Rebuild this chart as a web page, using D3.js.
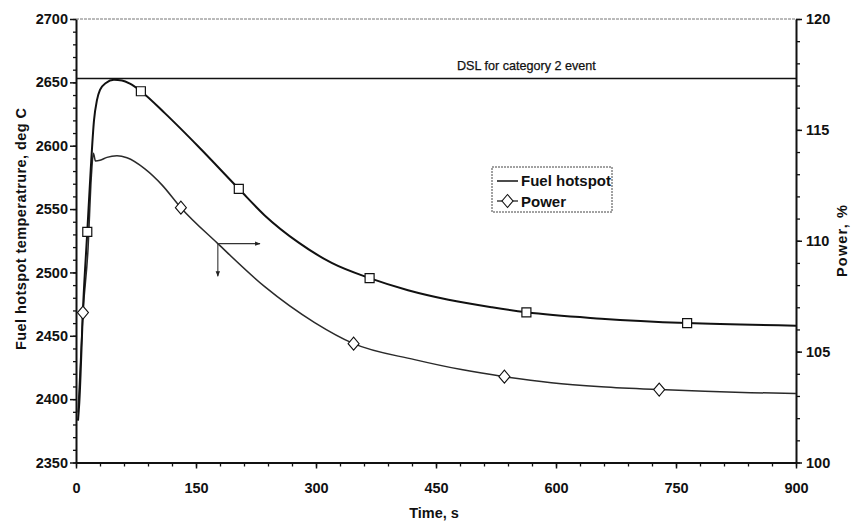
<!DOCTYPE html>
<html><head><meta charset="utf-8">
<script src="https://cdn.jsdelivr.net/npm/d3@7"></script>
<style>
body{margin:0;background:#fff;}
svg text{font-family:"Liberation Sans",Arial,sans-serif;fill:#111;}
</style></head>
<body><svg id="c" width="851" height="522"></svg>
<script>
// ---- data ----
const hotspotTime = [2.5,4.1,9.1,14.1,18.4,22.5,26.2,30,37.4,47.4,57.4,67.4,81.1,111,153.5,203.5,235.9,278.4,319.6,367,415,465.6,520,563,656.6,763.9,900];
const hotspotTemp = [2383,2397,2476,2532,2581,2620,2636,2644,2649.5,2652,2651.5,2649,2643,2625.7,2599,2566,2545,2523.5,2507.5,2495.5,2486,2478.5,2472.5,2468.5,2463.5,2460,2458];
const powerTime = [2.5,8.7,15,19.3,21.8,24.3,30,38.7,51.2,63.7,86.1,107.4,131.1,177.3,235.9,298.3,347,423.2,481.8,535.5,594.2,656.6,729,843.3,900];
const powerPct = [102.25,106.76,109.6,112.97,113.95,113.6,113.63,113.76,113.83,113.74,113.24,112.52,111.49,109.87,107.93,106.31,105.36,104.64,104.19,103.87,103.6,103.42,103.29,103.15,103.11];
const squareTime = [14.1,81.1,203.5,367,563,763.9];
const squareTemp = [2532,2643,2566,2495.5,2468.5,2460];
const diamondTime = [8.7,131.1,347,535.5,729];
const diamondPct = [106.76,111.49,105.36,103.87,103.29];
const dslTemp = 2653;
const dslLabel = "DSL for category 2 event";
const xTicks = [0,150,300,450,600,750,900];
const leftTicks = [2350,2400,2450,2500,2550,2600,2650,2700];
const rightTicks = [100,105,110,115,120];
const arrowStart = [177.3,109.87];   // time, power
const arrowRightTo = 230;            // time
const arrowDownTo = 108.4;           // power
const legendLabels = ["Fuel hotspot","Power"];

// ---- layout ----
const L = 76, R = 796, T = 19, B = 462.5;
const svg = d3.select("#c");
const x = d3.scaleLinear().domain([0,900]).range([L,R]);
const yL = d3.scaleLinear().domain([2350,2700]).range([B,T]);
const yR = d3.scaleLinear().domain([100,120]).range([B,T]);
const font = "bold 14.5px 'Liberation Sans', Arial, sans-serif";

// top frame line
svg.append("line").attr("x1",L).attr("x2",R).attr("y1",T).attr("y2",T)
  .attr("stroke","#777").attr("stroke-width",1).attr("stroke-dasharray","3,1");

// minor ticks
svg.append("g").attr("transform",`translate(${L},0)`)
  .call(d3.axisLeft(yL).tickValues(d3.range(2350,2701,10)).tickSize(3).tickFormat(""))
  .call(g=>g.select(".domain").remove()).selectAll("line").attr("stroke","#111").attr("stroke-width",1.3);
svg.append("g").attr("transform",`translate(${R},0)`)
  .call(d3.axisRight(yR).tickValues(d3.range(100,120.01,1)).tickSize(4).tickFormat(""))
  .call(g=>g.select(".domain").remove()).selectAll("line").attr("stroke","#111").attr("stroke-width",1.3);
svg.append("g").attr("transform",`translate(0,${B})`)
  .call(d3.axisBottom(x).tickValues(d3.range(0,901,30)).tickSize(4).tickFormat(""))
  .call(g=>g.select(".domain").remove()).selectAll("line").attr("stroke","#111").attr("stroke-width",1.3);

// major axes
function styleAxis(g){
  g.select(".domain").attr("stroke","#111").attr("stroke-width",2);
  g.selectAll(".tick line").attr("stroke","#111").attr("stroke-width",1.5);
  g.selectAll(".tick text").style("font",font).attr("fill","#111");
}
svg.append("g").attr("transform",`translate(${L},0)`)
  .call(d3.axisLeft(yL).tickValues(leftTicks).tickSize(6).tickSizeOuter(0).tickPadding(2).tickFormat(d3.format("d")))
  .call(styleAxis);
svg.append("g").attr("transform",`translate(${R},0)`)
  .call(d3.axisRight(yR).tickValues(rightTicks).tickSize(6).tickSizeOuter(0).tickPadding(4).tickFormat(d3.format("d")))
  .call(styleAxis);
svg.append("g").attr("transform",`translate(0,${B})`)
  .call(d3.axisBottom(x).tickValues(xTicks).tickSize(6).tickSizeOuter(0).tickPadding(14).tickFormat(d3.format("d")))
  .call(styleAxis);

// DSL line
svg.append("line").attr("x1",L).attr("x2",R).attr("y1",yL(dslTemp)).attr("y2",yL(dslTemp))
  .attr("stroke","#111").attr("stroke-width",1.5);
svg.append("text").attr("x",457).attr("y",yL(dslTemp)-9).text(dslLabel)
  .style("font","12.6px 'Liberation Sans', Arial, sans-serif").attr("stroke","#111").attr("stroke-width",0.25);

// curves
const hs = hotspotTime.map((t,i)=>[t,hotspotTemp[i]]);
const pw = powerTime.map((t,i)=>[t,powerPct[i]]);
svg.append("path").datum(pw)
  .attr("d", d3.line().x(d=>x(d[0])).y(d=>yR(d[1])).curve(d3.curveMonotoneX))
  .attr("fill","none").attr("stroke","#2a2a2a").attr("stroke-width",1.5);
svg.append("path").datum(hs)
  .attr("d", d3.line().x(d=>x(d[0])).y(d=>yL(d[1])).curve(d3.curveMonotoneX))
  .attr("fill","none").attr("stroke","#111").attr("stroke-width",2);

// markers
const sqPath = "M-4.5,-4.5H4.5V4.5H-4.5Z";
const dmPath = "M0,-6.5L5.5,0L0,6.5L-5.5,0Z";
svg.selectAll(".sq").data(squareTime).join("path")
  .attr("transform",(d,i)=>`translate(${x(d)},${yL(squareTemp[i])})`)
  .attr("d",sqPath).attr("fill","#fff").attr("stroke","#111").attr("stroke-width",1.2);
svg.selectAll(".dm").data(diamondTime).join("path")
  .attr("transform",(d,i)=>`translate(${x(d)},${yR(diamondPct[i])})`)
  .attr("d",dmPath).attr("fill","#fff").attr("stroke","#111").attr("stroke-width",1.1);

// arrows
const defs = svg.append("defs");
defs.append("marker").attr("id","ah").attr("viewBox","0 0 10 10").attr("refX",9).attr("refY",5)
  .attr("markerWidth",5).attr("markerHeight",5).attr("orient","auto")
  .append("path").attr("d","M0,1L10,5L0,9Z").attr("fill","#222");
const ax0 = x(arrowStart[0]), ay0 = yR(arrowStart[1]);
svg.append("line").attr("x1",ax0).attr("y1",ay0).attr("x2",x(arrowRightTo)).attr("y2",ay0)
  .attr("stroke","#333").attr("stroke-width",1.1).attr("marker-end","url(#ah)");
svg.append("line").attr("x1",ax0).attr("y1",ay0).attr("x2",ax0).attr("y2",yR(arrowDownTo))
  .attr("stroke","#333").attr("stroke-width",1.1).attr("marker-end","url(#ah)");

// legend
const lg = svg.append("g").attr("transform","translate(492,167)");
lg.append("rect").attr("width",120).attr("height",45).attr("fill","#fff")
  .attr("stroke","#444").attr("stroke-width",1).attr("stroke-dasharray","2,1");
lg.append("line").attr("x1",5).attr("x2",26).attr("y1",14).attr("y2",14).attr("stroke","#111").attr("stroke-width",1.5);
lg.append("text").attr("x",29).attr("y",19).text(legendLabels[0]).style("font","bold 15px 'Liberation Sans', Arial, sans-serif");
lg.append("line").attr("x1",5).attr("x2",26).attr("y1",34).attr("y2",34).attr("stroke","#111").attr("stroke-width",1.2);
lg.append("path").attr("transform","translate(15.5,34)").attr("d",dmPath)
  .attr("fill","#fff").attr("stroke","#111").attr("stroke-width",1.1);
lg.append("text").attr("x",29).attr("y",40).text(legendLabels[1]).style("font","bold 15px 'Liberation Sans', Arial, sans-serif");

// axis titles
svg.append("text").attr("transform","translate(26,229) rotate(-90)").attr("text-anchor","middle")
  .style("font","bold 14.5px 'Liberation Sans', Arial, sans-serif")
  .attr("textLength",242).attr("lengthAdjust","spacing")
  .text("Fuel hotspot temperatrure, deg C");
svg.append("text").attr("transform","translate(847,241) rotate(-90)").attr("text-anchor","middle")
  .style("font","bold 14.5px 'Liberation Sans', Arial, sans-serif")
  .attr("textLength",72).attr("lengthAdjust","spacing")
  .text("Power, %");
svg.append("text").attr("x",434).attr("y",518).attr("text-anchor","middle")
  .style("font","bold 14.5px 'Liberation Sans', Arial, sans-serif").text("Time, s");
</script></body></html>
